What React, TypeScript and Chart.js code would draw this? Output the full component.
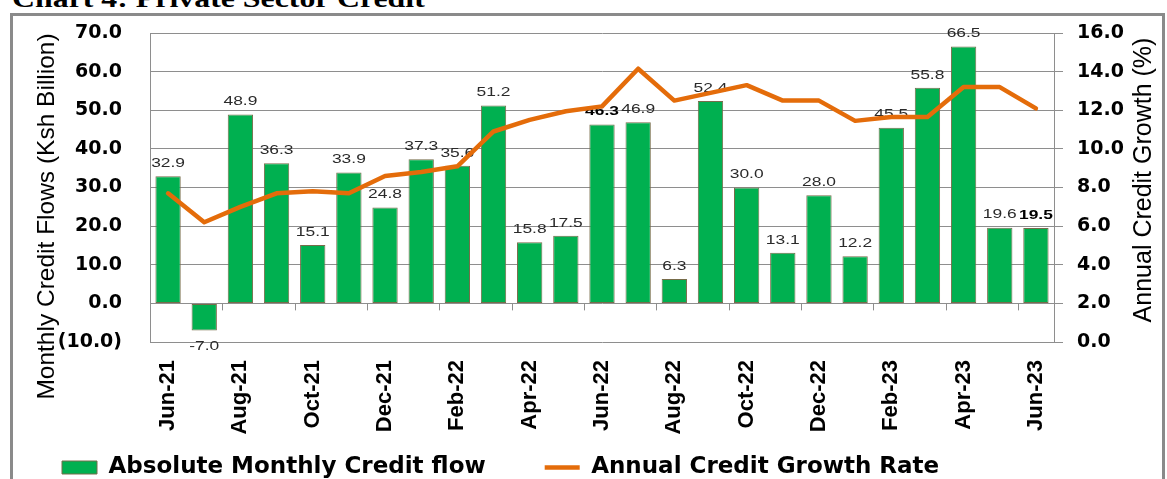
import React, { useEffect, useRef } from 'react';
import Chart from 'chart.js/auto';

const monthLabels = [
  'Jun-21', 'Jul-21', 'Aug-21', 'Sep-21', 'Oct-21', 'Nov-21', 'Dec-21', 'Jan-22', 'Feb-22',
  'Mar-22', 'Apr-22', 'May-22', 'Jun-22', 'Jul-22', 'Aug-22', 'Sep-22', 'Oct-22', 'Nov-22',
  'Dec-22', 'Jan-23', 'Feb-23', 'Mar-23', 'Apr-23', 'May-23', 'Jun-23',
];

const creditFlow = [
  32.9, -7.0, 48.9, 36.3, 15.1, 33.9, 24.8, 37.3, 35.6, 51.2, 15.8, 17.5, 46.3,
  46.9, 6.3, 52.4, 30.0, 13.1, 28.0, 12.2, 45.5, 55.8, 66.5, 19.6, 19.5,
];

const growthRate = [
  7.7, 6.2, 7.0, 7.7, 7.8, 7.7, 8.6, 8.8, 9.1, 10.9, 11.5, 11.95, 12.2,
  14.15, 12.5, 12.9, 13.3, 12.5, 12.5, 11.45, 11.65, 11.65, 13.2, 13.2, 12.1,
];

const boldValueIndexes = [12, 24];

const seriesNames = ['Absolute Monthly Credit flow', 'Annual Credit Growth Rate'];
const axisTitleLeft = 'Monthly Credit Flows (Ksh Billion)';
const axisTitleRight = 'Annual Credit Growth (%)';
const chartTitle = 'Chart 4: Private Sector Credit';

export default function App() {
  const ref = useRef<HTMLCanvasElement>(null);

  useEffect(() => {
    const canvas = ref.current;
    if (!canvas) return;
    const gray = '#8e8e8e';

    const valueLabels = {
      id: 'valueLabels',
      afterDatasetDraw(chart: any, args: any) {
        if (args.index !== 0) return;
        const ctx = chart.ctx;
        const meta = chart.getDatasetMeta(0);
        ctx.save();
        ctx.textAlign = 'center';
        ctx.textBaseline = 'middle';
        meta.data.forEach((el: any, i: number) => {
          const v = creditFlow[i];
          const bold = boldValueIndexes.includes(i);
          ctx.font = (bold ? 'bold ' : '') + '12px "Liberation Sans", Arial, sans-serif';
          ctx.fillStyle = bold ? '#000000' : '#2a2a2a';
          const y = v >= 0 ? el.y - 12.5 : el.y + 16;
          ctx.save();
          ctx.translate(el.x, y);
          ctx.scale(1.45, 1);
          ctx.fillText(v.toFixed(1), 0, 0);
          ctx.restore();
        });
        ctx.restore();
      },
    };

    const zeroTicks = {
      id: 'zeroTicks',
      afterLayout(chart: any) {
        // let the rotated category labels extend below the (short) axis box
        chart.scales.x.bottom = chart.height;
      },
      beforeDatasetsDraw(chart: any) {
        const ctx = chart.ctx;
        const xs = chart.scales.x;
        const ys = chart.scales.y;
        const y0 = ys.getPixelForValue(0);
        ctx.save();
        ctx.strokeStyle = gray;
        ctx.lineWidth = 1;
        for (let k = 2; k < monthLabels.length; k += 2) {
          const x = Math.round((xs.getPixelForValue(k - 1) + xs.getPixelForValue(k)) / 2) + 0.5;
          ctx.beginPath();
          ctx.moveTo(x, y0);
          ctx.lineTo(x, y0 + 7);
          ctx.stroke();
        }
        ctx.restore();
      },
    };

    const axisTitles = {
      id: 'axisTitles',
      afterDraw(chart: any) {
        const ctx = chart.ctx;
        const area = chart.chartArea;
        ctx.save();
        ctx.fillStyle = '#000000';
        ctx.textAlign = 'center';
        ctx.textBaseline = 'middle';
        ctx.font = '24.5px "Liberation Sans", Arial, sans-serif';
        ctx.save();
        ctx.translate(chart.scales.y.left + 44.5, area.top + 183.5);
        ctx.rotate(-Math.PI / 2);
        ctx.fillText(axisTitleLeft, 0, 0);
        ctx.restore();
        ctx.font = '25px "Liberation Sans", Arial, sans-serif';
        ctx.save();
        ctx.translate(chart.scales.y1.left + 90, area.top + 147);
        ctx.rotate(-Math.PI / 2);
        ctx.fillText(axisTitleRight, 0, 0);
        ctx.restore();
        ctx.restore();
      },
    };

    const chart = new Chart(canvas, {
      type: 'bar',
      data: {
        labels: monthLabels,
        datasets: [
          {
            type: 'bar',
            label: seriesNames[0],
            data: creditFlow,
            backgroundColor: '#00B050',
            borderColor: '#776c4a',
            borderWidth: 1,
            borderSkipped: false,
            barPercentage: 0.7,
            categoryPercentage: 1,
            yAxisID: 'y',
            order: 1,
            pointStyle: 'rect',
          } as any,
          {
            type: 'line',
            label: seriesNames[1],
            data: growthRate,
            borderColor: '#E46C0A',
            backgroundColor: '#E46C0A',
            borderWidth: 4.5,
            borderJoinStyle: 'round',
            borderCapStyle: 'round',
            pointRadius: 0,
            pointHoverRadius: 0,
            pointStyle: 'line',
            pointBorderColor: '#E46C0A',
            pointBorderWidth: 4.5,
            tension: 0,
            yAxisID: 'y1',
            order: 0,
          } as any,
        ],
      },
      options: {
        responsive: false,
        animation: false,
        events: [],
        layout: { padding: { top: 16, left: 0, right: 0, bottom: 0 } },
        plugins: {
          tooltip: { enabled: false },
          title: { display: false },
          legend: {
            display: true,
            position: 'bottom',
            align: 'start',
            labels: {
              usePointStyle: true,
              pointStyleWidth: 35,
              boxHeight: 13,
              padding: 59,
              color: '#000000',
              font: { family: '"DejaVu Sans", sans-serif', size: 23, weight: 'bold' },
              sort: (a: any, b: any) => a.datasetIndex - b.datasetIndex,
            },
          },
        },
        scales: {
          x: {
            type: 'category',
            offset: true,
            grid: { display: false, drawTicks: false },
            border: { display: false },
            ticks: {
              autoSkip: false,
              minRotation: 90,
              maxRotation: 90,
              padding: 18,
              color: '#000000',
              font: { family: '"Liberation Sans", Arial, sans-serif', size: 22, weight: 'bold' },
              callback: (_v: any, i: number) => (i % 2 === 0 ? monthLabels[i] : ''),
            },
            afterFit: (scale: any) => {
              scale.height = 55;
            },
          },
          y: {
            position: 'left',
            min: -10,
            max: 70,
            grid: { color: gray, lineWidth: 1, drawTicks: true, tickLength: 28, tickColor: 'rgba(0,0,0,0)' },
            border: { display: true, color: gray, width: 1 },
            ticks: {
              stepSize: 10,
              padding: 0,
              color: '#000000',
              font: { family: '"DejaVu Sans", sans-serif', size: 19, weight: 'bold' },
              callback: (v: any) => (v < 0 ? '(' + Math.abs(v).toFixed(1) + ')' : Number(v).toFixed(1)),
            },
            afterFit: (scale: any) => {
              scale.width = 147;
            },
          },
          y1: {
            position: 'right',
            min: 0,
            max: 16,
            grid: {
              drawOnChartArea: false,
              drawTicks: true,
              tickLength: 23,
              tickColor: gray,
              tickBorderDash: [8, 60],
              color: gray,
            },
            border: { display: true, color: gray, width: 1 },
            ticks: {
              stepSize: 2,
              padding: 0,
              color: '#000000',
              font: { family: '"DejaVu Sans", sans-serif', size: 19, weight: 'bold' },
              callback: (v: any) => Number(v).toFixed(1),
            },
            afterFit: (scale: any) => {
              scale.width = 109;
            },
          },
        },
      } as any,
      plugins: [zeroTicks, valueLabels, axisTitles],
    });
    return () => chart.destroy();
  }, []);

  return (
    <div style={{ position: 'fixed', left: 0, top: 0, width: '100vw', height: '100vh', overflow: 'hidden', background: '#ffffff' }}>
      <div
        style={{
          position: 'absolute',
          left: 12,
          top: -13.5,
          fontFamily: '"Liberation Serif", "Times New Roman", serif',
          fontWeight: 'bold',
          fontSize: 24.5,
          lineHeight: 1,
          whiteSpace: 'nowrap',
          transform: 'scaleX(1.3)',
          transformOrigin: 'left top',
          color: '#000000',
        }}
      >
        {chartTitle}
      </div>
      <canvas
        ref={ref}
        width={1160}
        height={472}
        style={{ position: 'absolute', left: 3, top: 17, width: 1160, height: 472, display: 'block' }}
      />
      <div
        style={{
          position: 'absolute',
          left: 10,
          top: 13,
          width: 1155,
          height: 600,
          boxSizing: 'border-box',
          border: '3px solid #8a8a8a',
          pointerEvents: 'none',
        }}
      />
    </div>
  );
}
